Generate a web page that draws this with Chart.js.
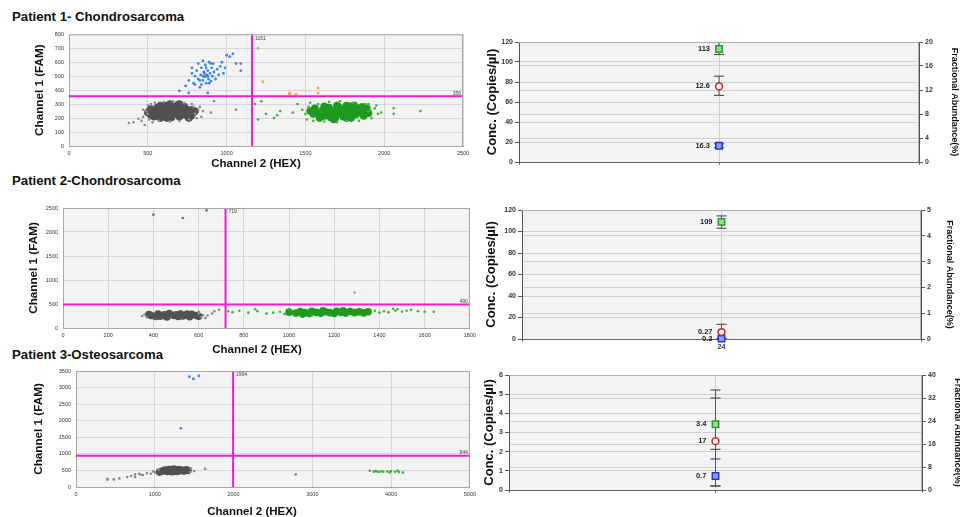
<!DOCTYPE html>
<html>
<head>
<meta charset="utf-8">
<script src="https://cdn.jsdelivr.net/npm/chart.js@4.4.0/dist/chart.umd.min.js"></script>
<style>
  body { margin: 0; width: 960px; height: 517px; background: #fff; position: relative; overflow: hidden;
         font-family: "Liberation Sans", Arial, sans-serif; }
  .title { position: absolute; left: 12px; font-weight: bold; font-size: 13.2px; color: #111; white-space: nowrap; line-height: 16px; }
  .xt { position: absolute; width: 140px; text-align: center; font-weight: bold; font-size: 11.5px; color: #111; line-height: 14px; }
  .box { position: absolute; }
</style>
</head>
<body>
<div class="title" style="top:9px">Patient 1- Chondrosarcoma</div>
<div class="title" style="top:173px">Patient 2-Chondrosarcoma</div>
<div class="title" style="top:347px">Patient 3-Osteosarcoma</div>

<div class="box" style="left:33px;top:26px;width:442px;height:145px"><canvas id="s1"></canvas></div>
<div class="box" style="left:485px;top:32px;width:475px;height:146px"><canvas id="c1"></canvas></div>
<div class="box" style="left:27px;top:198px;width:453px;height:159px"><canvas id="s2"></canvas></div>
<div class="box" style="left:484px;top:200px;width:471px;height:155px"><canvas id="c2"></canvas></div>
<div class="box" style="left:32px;top:362px;width:448px;height:157px"><canvas id="s3"></canvas></div>
<div class="box" style="left:482px;top:365px;width:481px;height:145px"><canvas id="c3"></canvas></div>

<div class="xt" style="left:186px;top:156px">Channel 2 (HEX)</div>
<div class="xt" style="left:187px;top:342px">Channel 2 (HEX)</div>
<div class="xt" style="left:182px;top:504px">Channel 2 (HEX)</div>

<script>
/* ddPCR 2D droplet plots + concentration / fractional abundance plots */

// ─── Patient 1 droplets [HEX, FAM] ───────────────────────────────
const p1XRange = [0, 2500, 500];
const p1YRange = [0, 800, 100];
const p1Threshold = [1161, 356];
const p1GrayCore = [[560,230],[590,250],[600,215],[620,270],[630,235],[650,205],[655,255],[670,280],[680,230],[700,210],
  [705,260],[720,240],[740,220],[745,265],[760,245],[580,200],[610,290],[690,295],[540,255],[775,215],[640,240],[710,235],
  [600,250],[660,230],[560,275],[730,285],[500,240],[520,220],[520,265],[790,240],[780,260],[760,200],[620,200],[580,290],
  [640,300],[700,300],[510,250],[540,210],[800,250]];
const p1GrayEdge = [[470,210],[490,250],[500,290],[510,190],[520,300],[530,170],[545,310],[570,180],[600,315],[640,175],
  [660,320],[700,180],[730,305],[760,190],[790,280],[800,230],[820,260],[840,210],[850,250],[500,230],[460,180],[380,165],
  [410,170],[440,195],[480,150],[900,240],[1060,260],[920,320],[780,300],[810,200],[470,260],[830,280]];
const p1Blue = [[700,395],[740,430],[760,470],[780,520],[790,450],[800,500],[810,540],[820,480],[830,420],[835,510],
  [840,560],[850,470],[855,530],[860,495],[865,580],[870,450],[875,510],[880,540],[885,480],[890,600],[895,520],[900,465],
  [905,560],[910,500],[915,590],[920,530],[930,480],[940,550],[950,510],[960,570],[970,600],[980,520],[990,560],[1000,650],
  [1020,640],[1040,660],[1060,590],[1090,590],[1090,540],[880,380],[760,380],[850,610],[820,590],[780,560],[800,440],
  [840,440],[860,520],[870,560],[890,450],[900,590],[870,500],[850,500],[880,500],[830,470]];
const p1GreenCore = [[1570,240],[1600,220],[1610,260],[1640,235],[1650,275],[1660,205],[1680,250],[1700,225],[1710,280],
  [1720,245],[1740,210],[1750,265],[1770,235],[1780,285],[1790,200],[1800,250],[1820,225],[1830,270],[1850,240],[1870,215],
  [1690,200],[1760,290],[1620,285],[1590,200],[1860,280],[1730,230],[1530,250],[1550,230],[1560,270],[1880,250],[1900,235],
  [1890,270],[1620,215],[1810,290],[1700,290],[1680,190],[1760,200]];
const p1GreenEdge = [[1300,200],[1320,220],[1340,250],[1420,240],[1450,300],[1480,260],[1500,230],[1510,190],[1520,280],
  [1530,310],[1550,180],[1580,300],[1620,175],[1650,315],[1700,170],[1720,320],[1760,180],[1800,310],[1840,180],[1880,300],
  [1900,250],[1920,200],[1940,270],[1960,230],[1980,240],[2060,270],[2060,230],[2230,250],[1180,300],[1220,320],[1250,230],
  [1200,190],[1900,300],[1950,290]];
const p1Orange = [[1200,700],[1230,460],[1400,380],[1400,372],[1440,370],[1580,415],[1580,380]];

// ─── Patient 2 droplets ──────────────────────────────────────────
const p2XRange = [0, 1800, 200];
const p2YRange = [0, 2500, 500];
const p2Threshold = [719, 490];
const p2GrayCore = [[390,260],[410,240],[420,290],[440,265],[460,230],[470,300],[490,260],[510,240],[520,290],[540,265],
  [560,235],[570,285],[590,260],[450,275],[500,275],[530,250],[600,245],[380,280],[430,245],[550,290]];
const p2GrayEdge = [[350,250],[360,280],[370,230],[600,300],[610,230],[620,270],[630,210],[640,260],[660,300],[670,350],
  [690,380],[600,340]];
const p2GreenCore = [[1000,330],[1030,310],[1050,345],[1070,320],[1090,300],[1100,350],[1120,325],[1140,305],[1160,340],
  [1180,320],[1200,300],[1210,350],[1230,325],[1250,310],[1270,345],[1290,320],[1310,335],[1330,315],[1060,290],[1150,360],
  [1240,360],[1350,340]];
const p2GreenEdge = [[730,350],[750,330],[780,360],[820,320],[850,390],[860,350],[900,300],[930,320],[960,340],[980,290],
  [1380,360],[1400,320],[1420,350],[1440,330],[1460,400],[1470,360],[1480,390],[1500,340],[1520,360],[1540,380],[1570,350],
  [1600,340],[1640,340],[1000,380],[1100,260]];
const p2Blue = [[400,2360],[530,2290],[635,2450]];
const p2Orange = [[1290,740]];

// ─── Patient 3 droplets ──────────────────────────────────────────
const p3XRange = [0, 5000, 1000];
const p3YRange = [0, 3500, 500];
const p3Threshold = [1994, 944];
const p3GrayCore = [[1100,480],[1130,510],[1160,470],[1180,530],[1200,500],[1220,460],[1240,540],[1260,500],[1280,470],
  [1300,530],[1320,490],[1340,510],[1370,480],[1400,520],[1420,500],[1060,450]];
const p3GrayEdge = [[400,250],[400,220],[480,230],[550,260],[650,300],[700,330],[750,380],[800,400],[850,360],[900,420],
  [950,400],[1000,440],[1050,520],[1460,560],[1500,480],[1640,550],[750,300],[820,370],[980,470],[1450,450]];
const p3GreenCore = [];
const p3GreenEdge = [[2790,380],[3730,490],[3780,460],[3820,470],[3850,450],[3880,480],[3900,460],[3950,470],[3980,440],
  [4000,480],[4050,460],[4080,500],[4100,450],[4150,440],[3800,480]];
const p3Blue = [[1440,3330],[1490,3260],[1560,3350],[1330,1770]];
const p3Orange = [];

// ─── Concentration plots: [HEX copies/µl, fractional abundance %, FAM copies/µl]
const p1Values = [113, 12.6, 16.3];
const p1Low    = [107.5, 11.1, 14.3];
const p1High   = [119.5, 14.3, 18.3];
const p1Labels = ['113', '12.6', '16.3'];
const p1ConcAxis = [120, 20];
const p1FAAxis = [20, 4];

const p2Values = [109, 0.27, 0.3];
const p2Low    = [103, 0.0, 0.1];
const p2High   = [114.5, 0.57, 0.5];
const p2Labels = ['109', '0.27', '0.3'];
const p2ConcAxis = [120, 20];
const p2FAAxis = [5, 1];

const p3Values = [3.43, 17, 0.73];
const p3Low    = [2.12, 1.4, 0.21];
const p3High   = [4.8, 34.8, 1.62];
const p3Labels = ['3.4', '17', '0.7'];
const p3ConcAxis = [6, 1];
const p3FAAxis = [40, 8];

const FONT = 'Liberation Sans';
const MAGENTA = '#ec1fd0';

// ─── Plugins ─────────────────────────────────────────────────────
const plotFrame = {
  id: 'plotFrame',
  beforeDraw(chart, args, opts) {
    const { ctx, chartArea: a } = chart;
    ctx.save();
    ctx.fillStyle = opts.fill || '#f3f3f3';
    ctx.fillRect(a.left, a.top, a.width, a.height);
    ctx.restore();
  },
  afterDatasetsDraw(chart, args, opts) {
    const { ctx, chartArea: a } = chart;
    ctx.save();
    ctx.strokeStyle = opts.stroke || '#a8a8a8';
    ctx.lineWidth = 1;
    ctx.beginPath();
    ctx.moveTo(a.left, a.top + 0.5); ctx.lineTo(a.right, a.top + 0.5);
    ctx.moveTo(a.right - 0.5, a.top); ctx.lineTo(a.right - 0.5, a.bottom);
    ctx.stroke();
    ctx.restore();
  }
};

const thresholdLabels = {
  id: 'thresholdLabels',
  afterDatasetsDraw(chart, args, opts) {
    if (!opts.values) return;
    const { ctx, chartArea: a, scales } = chart;
    const [tx, ty] = opts.values;
    const px = scales.x.getPixelForValue(tx);
    const py = scales.y.getPixelForValue(ty);
    ctx.save();
    ctx.font = `5px ${FONT}`;
    ctx.fillStyle = '#444';
    ctx.textBaseline = 'middle';
    ctx.textAlign = 'left';
    ctx.fillText(String(tx), px + 3, a.top + 4);
    ctx.textAlign = 'right';
    ctx.fillText(String(ty), a.right - 2, py - 3);
    ctx.restore();
  }
};

const valueLabels = {
  id: 'valueLabels',
  afterDatasetsDraw(chart, args, opts) {
    if (!opts.labels) return;
    const { ctx } = chart;
    ctx.save();
    ctx.font = `bold 7.5px ${FONT}`;
    ctx.fillStyle = '#222';
    ctx.textAlign = 'right';
    ctx.textBaseline = 'middle';
    opts.labels.forEach((txt, i) => {
      const pt = chart.getDatasetMeta(i).data[0];
      ctx.fillText(txt, pt.x - 9, pt.y);
    });
    ctx.restore();
  }
};

Chart.register(plotFrame, thresholdLabels, valueLabels);

// ─── Droplet scatter ─────────────────────────────────────────────
function toPts(arr) { return arr.map(([x, y]) => ({ x, y })); }

function dots(arr, color, r) {
  return { data: toPts(arr), backgroundColor: color, borderWidth: 0, pointRadius: r, pointHoverRadius: r };
}

function scatterChart(id, p) {
  const [x0, x1, xs] = p.xr;
  const [y0, y1, ys] = p.yr;
  const [tx, ty] = p.thr;
  const tickFont = { family: FONT, size: 5.5 };

  return new Chart(document.getElementById(id), {
    type: 'scatter',
    data: {
      datasets: [
        { data: [{ x: tx, y: y0 }, { x: tx, y: y1 }], showLine: true, borderColor: MAGENTA, borderWidth: 2, pointRadius: 0 },
        { data: [{ x: x0, y: ty }, { x: x1, y: ty }], showLine: true, borderColor: MAGENTA, borderWidth: 2, pointRadius: 0 },
        dots(p.orange, '#f3a35e', 1.5),
        dots(p.blue, '#3a86e0', 1.4),
        dots(p.greenEdge, '#3cb43c', 1.3),
        dots(p.greenCore, '#1f9a1f', 3.8),
        dots(p.grayEdge, '#8a8a8a', 1.3),
        dots(p.grayCore, '#515151', 3.8)
      ]
    },
    options: {
      responsive: true,
      maintainAspectRatio: false,
      animation: false,
      layout: { padding: { top: p.padTop, right: p.padRight, left: 0, bottom: 0 } },
      plugins: {
        legend: { display: false },
        tooltip: { enabled: false },
        thresholdLabels: { values: p.thr }
      },
      scales: {
        x: {
          type: 'linear', min: x0, max: x1,
          ticks: { stepSize: xs, font: tickFont, color: '#333', padding: 4, maxRotation: 0, autoSkip: false,
                   callback: v => String(v) },
          grid: { color: '#d6d6d6', drawTicks: false },
          border: { color: '#a8a8a8' },
          afterFit: s => { s.height = p.xh; }
        },
        y: {
          type: 'linear', min: y0, max: y1,
          ticks: { stepSize: ys, font: tickFont, color: '#333', padding: 5, autoSkip: false,
                   callback: v => String(v) },
          grid: { color: '#d6d6d6', drawTicks: false },
          border: { color: '#a8a8a8' },
          title: { display: true, text: 'Channel 1 (FAM)', color: '#111', padding: 0,
                   font: { family: FONT, size: 11.7, weight: 'bold' } },
          afterFit: s => { s.width = p.yw; }
        }
      }
    }
  });
}

// ─── Concentration / fractional abundance ────────────────────────
const MARKERS = [
  { pointStyle: 'rect',   pointRadius: 4.5, backgroundColor: '#9bd89b', borderColor: '#2c9c2c' },
  { pointStyle: 'circle', pointRadius: 3.4, backgroundColor: '#ffffff', borderColor: '#c42222' },
  { pointStyle: 'rect',   pointRadius: 4.5, backgroundColor: '#8f9cf2', borderColor: '#2234d6' }
];
const ERR_COLORS = ['#555555', '#555555', '#3a4699'];

function concChart(id, p) {
  const axisOf = i => (i === 1 ? 'y2' : 'y');
  const markers = p.values.map((v, i) => ({
    data: [{ x: 1, y: v }], yAxisID: axisOf(i), borderWidth: 1.5, clip: false,
    pointHoverRadius: MARKERS[i].pointRadius, ...MARKERS[i]
  }));
  const bars = p.values.map((v, i) => ({
    data: [{ x: 1, y: p.low[i] }, { x: 1, y: p.high[i] }], yAxisID: axisOf(i), showLine: true, clip: false,
    borderColor: ERR_COLORS[i], borderWidth: 1, pointStyle: 'line', pointRadius: 5, pointHoverRadius: 5,
    pointBorderColor: ERR_COLORS[i], pointBorderWidth: 1.2
  }));
  const tickFont = { family: FONT, size: 7, weight: 'bold' };
  const gridCol = '#d0d0d0';

  return new Chart(document.getElementById(id), {
    type: 'scatter',
    data: { datasets: [...markers, ...bars] },
    options: {
      responsive: true,
      maintainAspectRatio: false,
      animation: false,
      layout: { padding: { top: p.padTop, right: 0, left: 0, bottom: 0 } },
      plugins: {
        legend: { display: false },
        tooltip: { enabled: false },
        plotFrame: { stroke: '#b0b0b0' },
        valueLabels: { labels: p.labels }
      },
      scales: {
        x: {
          type: 'linear', min: 0, max: 2,
          ticks: { stepSize: 1, font: tickFont, color: '#333', padding: 1, callback: v => (v === 1 ? p.xLabel : '') },
          grid: { color: gridCol, tickLength: 3, tickColor: '#777' },
          border: { color: '#666' },
          afterFit: s => { s.height = p.xh; }
        },
        y: {
          position: 'left', min: 0, max: p.conc[0],
          ticks: { stepSize: p.conc[1], font: tickFont, color: '#333', padding: 2 },
          grid: { color: gridCol, tickLength: 4, tickColor: '#555' },
          border: { color: '#555' },
          title: { display: true, text: 'Conc. (Copies/µl)', color: '#111', padding: 0,
                   font: { family: FONT, size: 13, weight: 'bold' } },
          afterFit: s => { s.width = p.yw; }
        },
        y2: {
          position: 'right', min: 0, max: p.fa[0],
          ticks: { stepSize: p.fa[1], font: tickFont, color: '#333', padding: 2 },
          grid: { color: gridCol, tickLength: 4, tickColor: '#555' },
          border: { color: '#555' },
          title: { display: true, text: 'Fractional Abundance(%)', color: '#111', padding: 0,
                   font: { family: FONT, size: 9, weight: 'bold' } },
          afterFit: s => { s.width = p.y2w; }
        }
      }
    }
  });
}

scatterChart('s1', { xr: p1XRange, yr: p1YRange, thr: p1Threshold, grayCore: p1GrayCore, grayEdge: p1GrayEdge,
  blue: p1Blue, greenCore: p1GreenCore, greenEdge: p1GreenEdge, orange: p1Orange,
  padTop: 6, padRight: 12, yw: 36, xh: 25 });
scatterChart('s2', { xr: p2XRange, yr: p2YRange, thr: p2Threshold, grayCore: p2GrayCore, grayEdge: p2GrayEdge,
  blue: p2Blue, greenCore: p2GreenCore, greenEdge: p2GreenEdge, orange: p2Orange,
  padTop: 10, padRight: 9, yw: 36, xh: 29 });
scatterChart('s3', { xr: p3XRange, yr: p3YRange, thr: p3Threshold, grayCore: p3GrayCore, grayEdge: p3GrayEdge,
  blue: p3Blue, greenCore: p3GreenCore, greenEdge: p3GreenEdge, orange: p3Orange,
  padTop: 9, padRight: 7, yw: 44, xh: 32 });

concChart('c1', { values: p1Values, low: p1Low, high: p1High, labels: p1Labels, conc: p1ConcAxis, fa: p1FAAxis,
  xLabel: '', padTop: 10, yw: 34, y2w: 41, xh: 16 });
concChart('c2', { values: p2Values, low: p2Low, high: p2High, labels: p2Labels, conc: p2ConcAxis, fa: p2FAAxis,
  xLabel: '24', padTop: 10, yw: 38, y2w: 34, xh: 16 });
concChart('c3', { values: p3Values, low: p3Low, high: p3High, labels: p3Labels, conc: p3ConcAxis, fa: p3FAAxis,
  xLabel: '', padTop: 10, yw: 27, y2w: 41, xh: 20 });
</script>
</body>
</html>
